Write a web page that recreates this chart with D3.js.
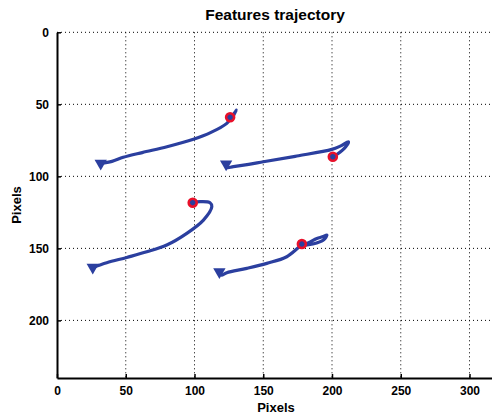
<!DOCTYPE html>
<html>
<head>
<meta charset="utf-8">
<script src="https://cdn.jsdelivr.net/npm/d3@7"></script>
<style>
  body { margin: 0; background: #fff; }
  svg text { font-family: "Liberation Sans", Arial, sans-serif; font-weight: bold; fill: #000; }
  .grid line { stroke: #000; stroke-width: 1; stroke-dasharray: 1,3; }
  .track { fill: none; stroke: #2b3f9f; stroke-width: 3.2; stroke-linejoin: round; }
</style>
</head>
<body>
<svg id="chart" width="492" height="415"></svg>
<script>
// trajectories, image coords (x, y) in pixels
const trackTopLeft = [[31.8, 91.0], [40, 89.6], [48.2, 86.8], [62, 83.5], [80, 79.5], [99.2, 74.3], [112, 69.5], [123.5, 63.2], [126.5, 59.5], [129.5, 55.5], [130.5, 54.0], [128.5, 57.5]];
const trackTopRight = [[123.0, 91.5], [123.5, 93.8], [128.3, 93.3], [150.1, 89.9], [174.4, 85.9], [199.9, 81.3], [206, 79], [212.0, 76.0], [210, 79.5], [204, 84.5], [200.6, 86.4]];
const trackLowLeft = [[26.0, 163.2], [36.2, 160.0], [50.7, 156.3], [65.3, 152.4], [79.8, 147.7], [94.4, 139.6], [106.5, 130.4], [112.6, 121.1], [111.3, 118.3], [104.1, 117.6], [98.7, 118.3]];
const trackLowRight = [[118.1, 166.3], [119.5, 168.5], [123.5, 166.9], [138.0, 163.9], [152.6, 160.4], [167.1, 155.8], [178.1, 147.7], [183, 146], [189.0, 143.1], [193, 142], [196.3, 140.8], [194, 144], [186, 147], [179, 148]];
const tracks = [trackTopLeft, trackTopRight, trackLowLeft, trackLowRight];

// current feature positions (red circles)
const features = [[125.9, 59.0], [200.6, 86.4], [98.7, 118.3], [178.1, 147.0]];

const xTicks = [0, 50, 100, 150, 200, 250, 300];
const yTicks = [0, 50, 100, 150, 200];

const svg = d3.select("#chart");
const m = { left: 57, top: 32.3, right: 497, bottom: 378 };

const x = d3.scaleLinear().domain([0, 320]).range([m.left, m.right]);
const y = d3.scaleLinear().domain([0, 240]).range([m.top, m.bottom]);

// grid (dotted)
const grid = svg.append("g").attr("class", "grid");
grid.selectAll(".gx").data(xTicks.filter(d => d > 0)).enter().append("line")
  .attr("x1", d => x(d)).attr("x2", d => x(d))
  .attr("y1", m.top).attr("y2", m.bottom);
grid.selectAll(".gy").data(yTicks).enter().append("line")
  .attr("y1", d => y(d)).attr("y2", d => y(d))
  .attr("x1", m.left).attr("x2", m.right);

// axes (ticks inward, MATLAB style)
const xAxis = d3.axisBottom(x).tickValues(xTicks).tickSizeInner(-4).tickSizeOuter(0).tickPadding(8);
const yAxis = d3.axisLeft(y).tickValues(yTicks).tickSizeInner(-4).tickSizeOuter(0).tickPadding(8);

const gx = svg.append("g").attr("transform", `translate(0,${m.bottom})`).call(xAxis);
const gy = svg.append("g").attr("transform", `translate(${m.left},0)`).call(yAxis);
[gx, gy].forEach(g => {
  g.select(".domain").attr("stroke", "#000").attr("stroke-width", 2);
  g.selectAll(".tick line").attr("stroke", "#000").attr("stroke-width", 1.5);
  g.selectAll(".tick text").style("font-size", "12px").style("font-weight", "bold")
    .style("font-family", "'Liberation Sans', Arial, sans-serif").attr("fill", "#000");
});

// trajectories (smooth pass through the tracked points)
const line = d3.line().curve(d3.curveCatmullRom.alpha(0.5))
  .x(d => x(d[0])).y(d => y(d[1]));
svg.append("g").selectAll("path").data(tracks).enter().append("path")
  .attr("class", "track")
  .attr("d", line);

// start markers (down triangles)
const tri = d3.symbol().type(d3.symbolTriangle).size(66);
svg.append("g").selectAll("path").data(tracks).enter().append("path")
  .attr("d", tri)
  .attr("transform", d => `translate(${x(d[0][0])},${y(d[0][1])}) rotate(180)`)
  .attr("fill", "#2b3f9f");

// feature markers
const feat = svg.append("g").selectAll("g").data(features).enter().append("g")
  .attr("transform", d => `translate(${x(d[0])},${y(d[1])})`);
feat.append("circle").attr("r", 4).attr("fill", "#2b3f9f")
  .attr("stroke", "#e8102a").attr("stroke-width", 2.6);

// titles
svg.append("text").attr("x", 275).attr("y", 20).attr("text-anchor", "middle")
  .style("font-size", "15.5px").text("Features trajectory");
svg.append("text").attr("x", 276).attr("y", 412).attr("text-anchor", "middle")
  .style("font-size", "13px").text("Pixels");
svg.append("text").attr("transform", "translate(21,205) rotate(-90)").attr("text-anchor", "middle")
  .style("font-size", "13px").text("Pixels");
</script>
</body>
</html>
